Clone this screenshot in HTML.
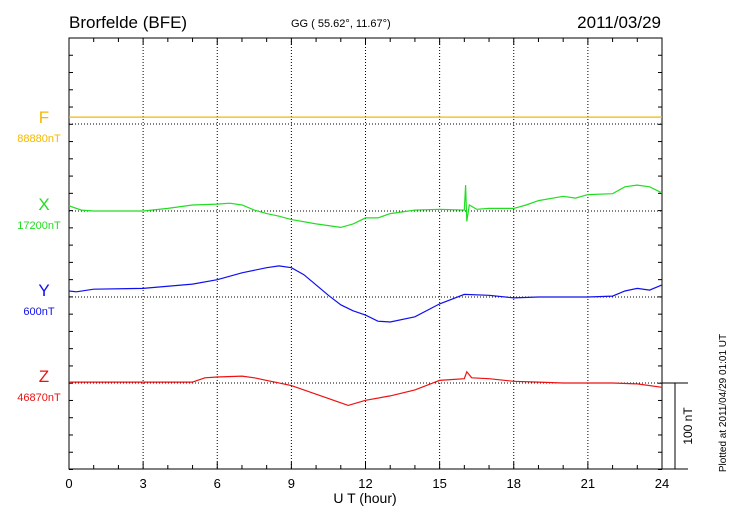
<!DOCTYPE html>
<html><head><meta charset="utf-8"><style>
body{margin:0;background:#fff;}
svg{display:block;font-family:"Liberation Sans",sans-serif;}
</style></head><body>
<svg id="c" width="730" height="520" viewBox="0 0 730 520">
<text x="69" y="28" font-size="17">Brorfelde (BFE)</text>
<text x="291" y="27" font-size="11">GG ( 55.62°,  11.67°)</text>
<text x="661" y="28" font-size="17" text-anchor="end">2011/03/29</text>
<text x="365" y="503" font-size="14" text-anchor="middle">U T (hour)</text>
<text transform="translate(726,403) rotate(-90)" font-size="10" text-anchor="middle">Plotted at 2011/04/29 01:01  UT</text>
<text transform="translate(692,426) rotate(-90)" font-size="12" text-anchor="middle">100 nT</text>
<g id="g"></g>
</svg>
<script>
const xHours=[0,0.5,1,3,4,5,6,6.5,7,7.5,8,8.5,9,10,11,11.5,12,12.5,13,14,15,16,16.05,16.1,16.2,16.5,17,18,18.5,19,20,20.5,21,22,22.5,23,23.5,24];
const xValues=[6,1,0,0,3,7,8,9,7,1,-3,-6,-10,-15,-19,-15,-8,-8,-3,1,2,1,30,-12,7,2,3,3,7,12,17,15,19,20,28,30,28,21];
const yHours=[0,0.3,1,3,5,6,7,8,8.5,9,9.5,10,10.5,11,11.5,12,12.5,13,14,15,16,17,18,19,20,21,22,22.5,23,23.5,24];
const yValues=[7,6,9,10,15,20,28,34,36,34,26,14,2,-9,-16,-21,-28,-29,-23,-8,3,2,-1,0,0,0,1,7,10,8,14];
const zHours=[0,5,5.5,6,7,7.5,8,9,10,11,11.3,12,13,14,15,16,16.1,16.3,17,18,19,20,21,22,23,24];
const zValues=[1,1,6,7,8,6,3,-3,-13,-23,-26,-20,-15,-8,3,5,13,6,5,2,1,0,0,0,-1,-5];
const fHours=[0,24];
const fValues=[8,8];
const xTickLabels=["0","3","6","9","12","15","18","21","24"];
const baselines=["88880nT","17200nT","600nT","46870nT"];
const comps=["F","X","Y","Z"];
const compColors=["#f5b800","#22dd22","#1010ee","#ee1111"];

const L=69,R=662,T=38,B=469,NS="http://www.w3.org/2000/svg";
const px=(h)=>L+(R-L)*h/24;
const nT=86.3/100;
const base=[124,211,297,383];
const g=document.getElementById('g');
function el(t,a,txt){const e=document.createElementNS(NS,t);for(const k in a)e.setAttribute(k,a[k]);if(txt!==undefined)e.textContent=txt;g.appendChild(e);return e;}
// grid
for(let i=1;i<8;i++){const x=px(i*3);const e=el('line',{x1:x,x2:x,y1:T,y2:B,stroke:'#000','stroke-width':1,'stroke-dasharray':'1,2'});

}
base.forEach((b)=>{const e=el('line',{x1:L,x2:R,y1:b,y2:b,stroke:'#000','stroke-width':1,'stroke-dasharray':'1,2'});

});
// frame
const fr=el('rect',{x:L,y:T,width:R-L,height:B-T,fill:'none',stroke:'#000','stroke-width':1});


// x ticks
for(let h=0;h<=24;h++){const x=px(h);const len=h%3==0?7:4;
el('line',{x1:x,x2:x,y1:T,y2:T+len,stroke:'#000'});el('line',{x1:x,x2:x,y1:B,y2:B-len,stroke:'#000'});}
xTickLabels.forEach((t,i)=>{const e=el('text',{x:px(i*3),y:488,'font-size':13,'text-anchor':'middle'},t);

});
// y ticks
for(let k=0;k<=25;k++){const y=T+k*17.26;if(y>B+1)break;
el('line',{x1:L,x2:L+4,y1:y,y2:y,stroke:'#000'});el('line',{x1:R,x2:R-4,y1:y,y2:y,stroke:'#000'});}
// scale bar
el('line',{x1:R,x2:688,y1:383,y2:383,stroke:'#000'});
el('line',{x1:R,x2:688,y1:469,y2:469,stroke:'#000'});
const sb=el('line',{x1:675,x2:675,y1:383,y2:469,stroke:'#000'});


// labels
comps.forEach((c,i)=>{const y=base[i];
const a=el('text',{x:44,y:y-1,'font-size':17,'text-anchor':'middle',fill:compColors[i]},c);


const b=el('text',{x:39,y:y+18,'font-size':11,'text-anchor':'middle',fill:compColors[i]},baselines[i]);

});
// series
const series=[[fHours,fValues],[xHours,xValues],[yHours,yValues],[zHours,zValues]];
series.forEach((s,i)=>{const pts=s[0].map((h,j)=>px(h).toFixed(1)+','+(base[i]-s[1][j]*nT).toFixed(1)).join(' ');
const p=el('polyline',{points:pts,fill:'none',stroke:compColors[i],'stroke-width':1.2});

});
</script>
</body></html>
